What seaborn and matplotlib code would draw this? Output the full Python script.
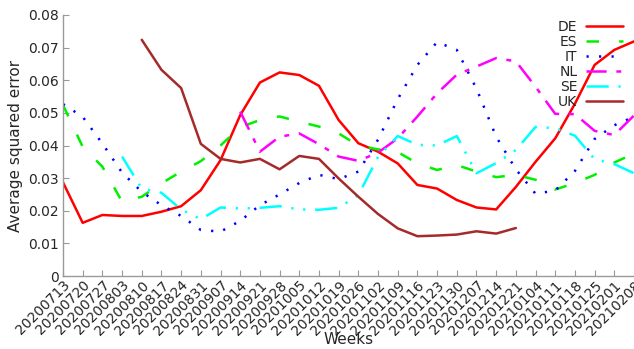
"""
Weekly average squared error per country.
"""
import numpy as np
import matplotlib
matplotlib.use('Agg')
import matplotlib.pyplot as plt
import seaborn as sns

nan = np.nan

WEEKS = ["20200713", "20200720", "20200727", "20200803", "20200810", "20200817",
         "20200824", "20200831", "20200907", "20200914", "20200921", "20200928",
         "20201005", "20201012", "20201019", "20201026", "20201102", "20201109",
         "20201116", "20201123", "20201130", "20201207", "20201214", "20201221",
         "20210104", "20210111", "20210118", "20210125", "20210201", "20210208"]

DE = [0.0287, 0.0163, 0.0187, 0.0184, 0.0184, 0.0197, 0.0214, 0.0263, 0.0355, 0.0493,
      0.0593, 0.0624, 0.0616, 0.0583, 0.0478, 0.0407, 0.0381, 0.0345, 0.0279, 0.0268,
      0.0233, 0.0210, 0.0204, 0.0273, 0.0350, 0.0422, 0.0528, 0.0647, 0.0693, 0.0719]
ES = [0.0524, 0.0396, 0.0335, 0.0228, 0.0243, 0.0284, 0.0320, 0.0352, 0.0400, 0.0456,
      0.0478, 0.0489, 0.0473, 0.0458, 0.0437, 0.0400, 0.0388, 0.0380, 0.0345, 0.0325,
      0.0340, 0.0320, 0.0303, 0.0310, 0.0295, 0.0265, 0.0285, 0.0310, 0.0348, 0.0375]
IT = [0.0527, 0.0488, 0.0406, 0.0317, 0.0258, 0.0217, 0.0184, 0.0141, 0.0136, 0.0169,
      0.0217, 0.0250, 0.0285, 0.0310, 0.0297, 0.0320, 0.0418, 0.0542, 0.0647, 0.0717,
      0.0693, 0.0574, 0.0427, 0.0327, 0.0252, 0.0262, 0.0322, 0.0420, 0.0462, 0.0488]
NL = [nan, nan, nan, nan, nan, nan, nan, nan, nan, 0.0504,
      0.0381, 0.0427, 0.0437, 0.0404, 0.0366, 0.0353, 0.0378, 0.0422, 0.0489, 0.0560,
      0.0617, 0.0642, 0.0668, 0.0658, 0.0580, 0.0497, 0.0496, 0.0445, 0.0432, 0.0492]
SE = [nan, nan, nan, 0.0366, 0.0268, 0.0255, 0.0204, 0.0174, 0.0210, 0.0207,
      0.0209, 0.0214, 0.0204, 0.0203, 0.0209, 0.0248, 0.0365, 0.0429, 0.0402, 0.0400,
      0.0429, 0.0315, 0.0346, 0.0386, 0.0457, 0.0453, 0.0430, 0.0358, 0.0343, 0.0315]
UK = [nan, nan, nan, nan, 0.0724, 0.0632, 0.0576, 0.0405, 0.0359, 0.0348,
      0.0359, 0.0327, 0.0368, 0.0359, 0.0299, 0.0243, 0.0190, 0.0146, 0.0122, 0.0124,
      0.0127, 0.0137, 0.0130, 0.0147, nan, nan, nan, nan, nan, nan]

COUNTRIES = ["DE", "ES", "IT", "NL", "SE", "UK"]
SERIES = [DE, ES, IT, NL, SE, UK]
COLORS = ["#ff0000", "#00f000", "#0000ff", "#ff00ff", "#00ffff", "#a52a2a"]
# dash patterns in points (scale_dashes off)
STYLES = ["-", (0, (9, 14.5)), (0, (1.6, 7.4)), (0, (14.5, 7, 3.5, 7)),
          (0, (16, 7, 1.6, 7, 1.6, 7)), "-"]

sns.set_style("ticks")
plt.rcParams['font.family'] = ['DejaVu Sans']
plt.rcParams['lines.scale_dashes'] = False

fig = plt.figure(figsize=(6.34, 3.49), dpi=100)
ax = fig.add_axes([63 / 634, 1 - 276 / 349, 571 / 634, 261 / 349])

x = np.arange(len(WEEKS))
for name, vals, col, ls in zip(COUNTRIES, SERIES, COLORS, STYLES):
    sns.lineplot(x=x, y=np.array(vals), ax=ax, color=col, linestyle=ls,
                 linewidth=1.8, label=name)

ax.set_xlim(0, len(WEEKS) - 1)
ax.set_ylim(0, 0.08)
ax.set_xticks(x)
ax.set_xticklabels(WEEKS, rotation=45, ha='right', rotation_mode='anchor')
ax.set_yticks(np.arange(0, 0.081, 0.01))
ax.set_yticklabels(["0"] + [f"{v:.2f}" for v in np.arange(0.01, 0.081, 0.01)])
ax.tick_params(direction='in', length=4, color='#999999', labelsize=10)
ax.tick_params(axis='x', pad=1.5)
ax.tick_params(axis='y', pad=3)
ax.set_xlabel("Weeks", fontsize=11)
ax.xaxis.set_label_coords(0.5, -0.215)
ax.set_ylabel("Average squared error", fontsize=11, labelpad=4)
for side in ['top', 'right']:
    ax.spines[side].set_visible(False)
for side in ['left', 'bottom']:
    ax.spines[side].set_color('#999999')
    ax.spines[side].set_linewidth(1.0)

ax.legend(loc='upper right', bbox_to_anchor=(0.981, 0.98), markerfirst=False,
          frameon=False, fontsize=10, handlelength=2.65, handletextpad=0.65,
          labelspacing=0.07, borderaxespad=0, borderpad=0)

fig.savefig("out.png", dpi=100)
plt.close()
